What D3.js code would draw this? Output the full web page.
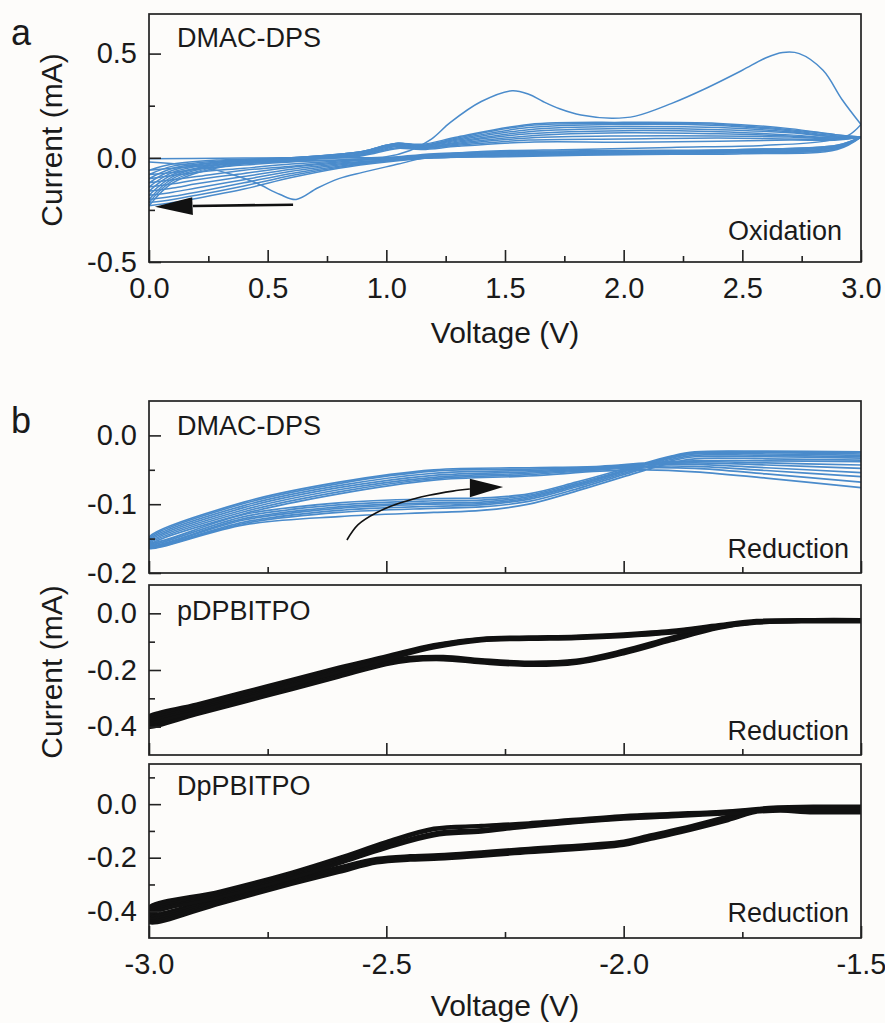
<!DOCTYPE html>
<html><head><meta charset="utf-8">
<script src="https://cdn.jsdelivr.net/npm/d3@7"></script>
<style>
body{margin:0;background:#fdfcfa}
svg{display:block}
text{font-family:"Liberation Sans",Arial,sans-serif;fill:#1a1a1a}
</style></head>
<body><svg id="c" width="885" height="1023"></svg>
<script>
// ---------------- Panel a : DMAC-DPS oxidation ----------------
const oxV1f = [0, 0.3, 0.6, 0.85, 1.0, 1.1, 1.19, 1.27, 1.4, 1.53, 1.6, 1.66, 1.73, 1.82, 1.95, 2.05, 2.2, 2.35, 2.5, 2.6, 2.67, 2.74, 2.84, 2.92, 3.0];
const oxI1f = [-0.005, -0.002, 0.0, 0.0, 0.005, 0.035, 0.09, 0.17, 0.27, 0.322, 0.305, 0.27, 0.235, 0.205, 0.19, 0.2, 0.26, 0.335, 0.42, 0.48, 0.505, 0.5, 0.42, 0.28, 0.16];
const oxV1r = [3.0, 2.95, 2.85, 2.6, 2.2, 1.8, 1.4, 1.2, 1.05, 0.9, 0.8, 0.71, 0.62, 0.55, 0.45, 0.35, 0.2, 0];
const oxI1r = [0.16, 0.11, 0.08, 0.06, 0.05, 0.04, 0.03, 0.01, -0.03, -0.07, -0.1, -0.145, -0.2, -0.175, -0.12, -0.08, -0.04, -0.02];

const oxVf = [0, 0.1, 0.3, 0.6, 0.9, 1.0, 1.05, 1.15, 1.3, 1.6, 2.0, 2.4, 2.7, 2.9, 3.0];
const oxIf = [
  [-0.06,-0.03,-0.01,0.00,0.03,0.06,0.07,0.065,0.10,0.16,0.17,0.165,0.14,0.11,0.10],
  [-0.08,-0.04,-0.015,0.00,0.03,0.06,0.07,0.06,0.095,0.155,0.165,0.16,0.135,0.11,0.10],
  [-0.10,-0.05,-0.02,0.00,0.03,0.06,0.07,0.06,0.09,0.145,0.16,0.155,0.13,0.105,0.10],
  [-0.12,-0.06,-0.02,-0.005,0.025,0.055,0.065,0.055,0.085,0.135,0.15,0.145,0.125,0.10,0.10],
  [-0.14,-0.07,-0.025,-0.005,0.025,0.055,0.065,0.055,0.08,0.125,0.14,0.135,0.12,0.10,0.10],
  [-0.16,-0.08,-0.03,-0.005,0.02,0.05,0.06,0.05,0.075,0.115,0.13,0.125,0.11,0.095,0.10],
  [-0.18,-0.09,-0.03,-0.01,0.02,0.05,0.06,0.05,0.07,0.105,0.12,0.115,0.105,0.095,0.10],
  [-0.20,-0.10,-0.035,-0.01,0.015,0.045,0.055,0.045,0.065,0.095,0.105,0.105,0.10,0.09,0.10],
  [-0.215,-0.11,-0.04,-0.01,0.015,0.04,0.05,0.045,0.06,0.085,0.09,0.095,0.09,0.09,0.10],
  [-0.23,-0.12,-0.045,-0.015,0.01,0.035,0.045,0.04,0.055,0.075,0.075,0.08,0.085,0.085,0.10]
];
const oxVr = [3.0, 2.9, 2.5, 2.0, 1.5, 1.2, 1.0, 0.8, 0.6, 0.4, 0.2, 0.1, 0];
const oxIr = [
  [0.10,0.06,0.04,0.035,0.03,0.02,0.0,-0.01,-0.015,-0.025,-0.04,-0.05,-0.06],
  [0.10,0.06,0.04,0.03,0.025,0.015,0.0,-0.01,-0.02,-0.035,-0.055,-0.07,-0.08],
  [0.10,0.055,0.035,0.03,0.025,0.015,-0.005,-0.015,-0.03,-0.05,-0.07,-0.085,-0.10],
  [0.10,0.055,0.035,0.03,0.02,0.01,-0.005,-0.02,-0.04,-0.06,-0.09,-0.105,-0.12],
  [0.10,0.05,0.03,0.025,0.02,0.01,-0.01,-0.025,-0.045,-0.075,-0.105,-0.125,-0.14],
  [0.10,0.05,0.03,0.025,0.015,0.005,-0.01,-0.03,-0.055,-0.09,-0.125,-0.145,-0.16],
  [0.10,0.05,0.03,0.02,0.015,0.005,-0.01,-0.035,-0.065,-0.105,-0.145,-0.165,-0.18],
  [0.10,0.045,0.025,0.02,0.01,0.0,-0.015,-0.04,-0.075,-0.12,-0.165,-0.185,-0.20],
  [0.10,0.045,0.025,0.02,0.01,0.0,-0.015,-0.045,-0.085,-0.135,-0.18,-0.2,-0.215],
  [0.10,0.04,0.02,0.015,0.005,0.0,-0.02,-0.05,-0.095,-0.15,-0.195,-0.215,-0.23]
];
const oxArrowLine = [[0.607, -0.225], [0.185, -0.231]];
const oxArrowHead = [[0.025, -0.235], [0.182, -0.189], [0.185, -0.275]];

// ---------------- Panel b top : DMAC-DPS reduction ----------------
const rdAV = [-3.0,-2.8,-2.6,-2.4,-2.3,-2.2,-2.1,-2.0,-1.9,-1.85,-1.7,-1.5];
const rdA = [
  [-0.156,-0.115,-0.098,-0.092,-0.091,-0.085,-0.068,-0.049,-0.030,-0.024,-0.023,-0.024],
  [-0.158,-0.118,-0.101,-0.095,-0.094,-0.087,-0.070,-0.051,-0.031,-0.025,-0.024,-0.025],
  [-0.160,-0.121,-0.104,-0.098,-0.097,-0.089,-0.072,-0.052,-0.032,-0.026,-0.025,-0.027],
  [-0.161,-0.123,-0.106,-0.100,-0.099,-0.091,-0.073,-0.053,-0.033,-0.027,-0.027,-0.029],
  [-0.162,-0.126,-0.109,-0.103,-0.101,-0.093,-0.075,-0.055,-0.035,-0.029,-0.029,-0.031],
  [-0.163,-0.128,-0.112,-0.106,-0.104,-0.096,-0.078,-0.057,-0.037,-0.031,-0.031,-0.033],
  [-0.164,-0.130,-0.118,-0.112,-0.109,-0.100,-0.081,-0.060,-0.040,-0.034,-0.034,-0.036]
];
const rdBV = [-1.5,-1.7,-1.85,-1.95,-2.05,-2.2,-2.4,-2.6,-2.8,-3.0];
const rdB = [
  [-0.038,-0.037,-0.037,-0.040,-0.045,-0.047,-0.050,-0.068,-0.097,-0.148],
  [-0.043,-0.040,-0.038,-0.041,-0.046,-0.049,-0.052,-0.070,-0.099,-0.150],
  [-0.048,-0.043,-0.040,-0.042,-0.047,-0.051,-0.055,-0.073,-0.102,-0.152],
  [-0.054,-0.047,-0.042,-0.043,-0.048,-0.053,-0.058,-0.076,-0.105,-0.154],
  [-0.060,-0.051,-0.045,-0.045,-0.049,-0.055,-0.061,-0.079,-0.108,-0.156],
  [-0.068,-0.056,-0.048,-0.047,-0.050,-0.057,-0.063,-0.082,-0.111,-0.158],
  [-0.076,-0.062,-0.053,-0.050,-0.052,-0.059,-0.065,-0.085,-0.114,-0.160]
];
const rdArrowCurve = [[-2.583,-0.152],[-2.56,-0.13],[-2.52,-0.112],[-2.47,-0.098],[-2.41,-0.087],[-2.36,-0.081],[-2.324,-0.078]];
const rdArrowHead = [[-2.254,-0.075],[-2.324,-0.063],[-2.324,-0.090]];

// ---------------- Panel b middle : pDPBITPO ----------------
const pVup = [-1.5,-1.6,-1.72,-1.8,-1.9,-2.0,-2.1,-2.2,-2.3,-2.4,-2.5,-2.6,-2.75,-2.9,-3.0];
const pUp = [
  [-0.022,-0.022,-0.025,-0.040,-0.060,-0.072,-0.080,-0.083,-0.088,-0.110,-0.150,-0.190,-0.255,-0.320,-0.362],
  [-0.024,-0.024,-0.027,-0.043,-0.063,-0.075,-0.082,-0.086,-0.090,-0.113,-0.153,-0.194,-0.260,-0.326,-0.370],
  [-0.026,-0.026,-0.029,-0.045,-0.066,-0.078,-0.085,-0.088,-0.093,-0.116,-0.157,-0.198,-0.266,-0.333,-0.378],
  [-0.028,-0.028,-0.031,-0.048,-0.068,-0.080,-0.087,-0.090,-0.095,-0.119,-0.160,-0.202,-0.272,-0.340,-0.386],
  [-0.030,-0.030,-0.033,-0.050,-0.070,-0.082,-0.089,-0.092,-0.097,-0.122,-0.164,-0.207,-0.278,-0.347,-0.394]
];
const pVdn = [-3.0,-2.9,-2.75,-2.6,-2.5,-2.45,-2.38,-2.3,-2.2,-2.1,-2.0,-1.9,-1.8,-1.72,-1.6,-1.5];
const pDn = [
  [-0.370,-0.330,-0.268,-0.205,-0.165,-0.155,-0.152,-0.163,-0.172,-0.165,-0.130,-0.085,-0.045,-0.027,-0.022,-0.022],
  [-0.378,-0.337,-0.274,-0.210,-0.169,-0.158,-0.155,-0.166,-0.175,-0.168,-0.134,-0.088,-0.047,-0.029,-0.024,-0.024],
  [-0.386,-0.344,-0.280,-0.215,-0.173,-0.161,-0.158,-0.169,-0.178,-0.171,-0.137,-0.091,-0.049,-0.031,-0.026,-0.026],
  [-0.394,-0.351,-0.286,-0.220,-0.177,-0.165,-0.161,-0.172,-0.181,-0.174,-0.140,-0.094,-0.051,-0.033,-0.028,-0.028],
  [-0.402,-0.358,-0.292,-0.225,-0.181,-0.168,-0.164,-0.175,-0.184,-0.177,-0.143,-0.097,-0.053,-0.035,-0.030,-0.030]
];

// ---------------- Panel b bottom : DpPBITPO ----------------
const dVup = [-1.5,-1.6,-1.67,-1.78,-1.9,-2.0,-2.2,-2.3,-2.4,-2.5,-2.6,-2.7,-2.85,-3.0];
const dUp = [
  [-0.008,-0.008,-0.010,-0.025,-0.035,-0.043,-0.070,-0.080,-0.090,-0.140,-0.200,-0.255,-0.325,-0.385],
  [-0.014,-0.014,-0.014,-0.028,-0.038,-0.046,-0.073,-0.083,-0.095,-0.146,-0.205,-0.260,-0.330,-0.392],
  [-0.020,-0.020,-0.018,-0.030,-0.041,-0.050,-0.078,-0.095,-0.108,-0.155,-0.212,-0.266,-0.336,-0.400],
  [-0.026,-0.026,-0.022,-0.033,-0.044,-0.053,-0.082,-0.100,-0.113,-0.160,-0.217,-0.271,-0.342,-0.408],
  [-0.032,-0.032,-0.026,-0.036,-0.047,-0.056,-0.085,-0.104,-0.118,-0.165,-0.222,-0.277,-0.348,-0.415]
];
const dVdn = [-3.0,-2.85,-2.7,-2.6,-2.52,-2.45,-2.4,-2.2,-2.0,-1.95,-1.88,-1.78,-1.71,-1.6,-1.5];
const dDn = [
  [-0.410,-0.347,-0.280,-0.235,-0.203,-0.193,-0.190,-0.165,-0.138,-0.118,-0.090,-0.045,-0.015,-0.008,-0.008],
  [-0.418,-0.353,-0.285,-0.240,-0.207,-0.197,-0.194,-0.169,-0.142,-0.122,-0.094,-0.049,-0.018,-0.014,-0.014],
  [-0.426,-0.360,-0.290,-0.245,-0.211,-0.201,-0.198,-0.173,-0.146,-0.126,-0.098,-0.053,-0.021,-0.020,-0.020],
  [-0.434,-0.366,-0.295,-0.250,-0.215,-0.205,-0.202,-0.177,-0.150,-0.130,-0.102,-0.057,-0.024,-0.026,-0.026],
  [-0.442,-0.372,-0.300,-0.255,-0.219,-0.209,-0.206,-0.181,-0.154,-0.134,-0.106,-0.061,-0.027,-0.032,-0.032]
];

// ---------------- tick values ----------------
const aXMajor = [0, 0.5, 1.0, 1.5, 2.0, 2.5, 3.0];
const aXMinor = [0.25, 0.75, 1.25, 1.75, 2.25, 2.75];
const aYMajor = [-0.5, 0.0, 0.5];
const aYMinor = [-0.25, 0.25];
const bXMajor = [-3.0, -2.5, -2.0, -1.5];
const bXMinor = [-2.75, -2.25, -1.75];
const b1YMajor = [-0.2, -0.1, 0.0];
const b1YMinor = [-0.15, -0.05];
const b2YMajor = [-0.4, -0.2, 0.0];
const b2YMinor = [-0.3, -0.1];
const b3YMajor = [-0.4, -0.2, 0.0];
const b3YMinor = [-0.3, -0.1, 0.1];

// ---------------- drawing ----------------
const BLUE = "#4a8bcb", INK = "#222";
const svg = d3.select("#c");
svg.append("rect").attr("width", 885).attr("height", 1023).attr("fill", "#fdfcfa");
const fmt = d => d.toFixed(1);

function panel(c) {
  const x = d3.scaleLinear().domain(c.xd).range([c.L, c.R]);
  const y = d3.scaleLinear().domain(c.yd).range([c.B, c.T]);
  const g = svg.append("g");
  svg.append("clipPath").attr("id", c.id).append("rect")
    .attr("x", c.L).attr("y", c.T).attr("width", c.R - c.L).attr("height", c.B - c.T);
  const plot = g.append("g").attr("clip-path", `url(#${c.id})`);
  const axG = g.append("g");
  function style(sel) {
    sel.select(".domain").remove();
    sel.attr("color", INK).attr("font-size", 29).attr("font-family", '"Liberation Sans",Arial,sans-serif');
    sel.selectAll("line").attr("stroke-width", 1.6);
    sel.selectAll("text").attr("fill", "#1a1a1a");
  }
  axG.append("g").attr("transform", `translate(0,${c.B})`)
    .call(d3.axisBottom(x).tickValues(c.xMinor).tickSize(-6).tickFormat("")).call(style);
  axG.append("g").attr("transform", `translate(0,${c.B})`)
    .call(d3.axisBottom(x).tickValues(c.xMajor).tickSize(-12).tickPadding(15).tickFormat(c.xLabels ? fmt : () => "")).call(style);
  axG.append("g").attr("transform", `translate(${c.L},0)`)
    .call(d3.axisLeft(y).tickValues(c.yMinor).tickSize(-6).tickFormat("")).call(style);
  axG.append("g").attr("transform", `translate(${c.L},0)`)
    .call(d3.axisLeft(y).tickValues(c.yMajor).tickSize(-12).tickPadding(12).tickFormat(fmt)).call(style);
  g.append("rect").attr("x", c.L).attr("y", c.T).attr("width", c.R - c.L).attr("height", c.B - c.T)
    .attr("fill", "none").attr("stroke", INK).attr("stroke-width", 1.7);
  const line = d3.line().x(d => x(d[0])).y(d => y(d[1])).curve(d3.curveCatmullRom.alpha(0.5));
  return {x, y, plot, g, line};
}

function label(txt, x, y, size, anchor) {
  svg.append("text").attr("x", x).attr("y", y).attr("font-size", size)
    .attr("text-anchor", anchor || "start").text(txt);
}

// Panel a
const pa = panel({id: "ca", L: 149, R: 861, T: 14, B: 262, xd: [0, 3], yd: [-0.5, 0.69],
  xMajor: aXMajor, xMinor: aXMinor, yMajor: aYMajor, yMinor: aYMinor, xLabels: true});
oxIf.forEach((fw, i) => {
  const pts = d3.zip(oxVf, fw).concat(d3.zip(oxVr, oxIr[i]));
  pa.plot.append("path").attr("d", pa.line(pts)).attr("fill", "none")
    .attr("stroke", BLUE).attr("stroke-width", 1.5);
});
pa.plot.append("path").attr("d", pa.line(d3.zip(oxV1f, oxI1f).concat(d3.zip(oxV1r, oxI1r))))
  .attr("fill", "none").attr("stroke", BLUE).attr("stroke-width", 1.5);
pa.plot.append("path").attr("d", d3.line().x(d => pa.x(d[0])).y(d => pa.y(d[1]))(oxArrowLine))
  .attr("stroke", "#111").attr("stroke-width", 2.6).attr("fill", "none");
pa.plot.append("path").attr("d", d3.line().x(d => pa.x(d[0])).y(d => pa.y(d[1]))(oxArrowHead) + "Z")
  .attr("fill", "#111");
label("DMAC-DPS", 177, 47, 27);
label("Oxidation", 842, 240, 27, "end");

// Panel b top
const pb1 = panel({id: "cb1", L: 149, R: 861, T: 401, B: 573, xd: [-3, -1.5], yd: [-0.2, 0.05],
  xMajor: bXMajor, xMinor: bXMinor, yMajor: b1YMajor, yMinor: b1YMinor, xLabels: false});
rdA.forEach((a, i) => {
  const pts = d3.zip(rdBV, rdB[i]).concat(d3.zip(rdAV, a));
  pb1.plot.append("path").attr("d", pb1.line(pts)).attr("fill", "none")
    .attr("stroke", BLUE).attr("stroke-width", 1.7);
});
pb1.plot.append("path").attr("d", pb1.line(rdArrowCurve)).attr("fill", "none")
  .attr("stroke", "#111").attr("stroke-width", 1.6);
pb1.plot.append("path").attr("d", d3.line().x(d => pb1.x(d[0])).y(d => pb1.y(d[1]))(rdArrowHead) + "Z")
  .attr("fill", "#111");
label("DMAC-DPS", 177, 435, 27);
label("Reduction", 849, 558, 27, "end");

// Panel b middle
const pb2 = panel({id: "cb2", L: 149, R: 861, T: 585, B: 755, xd: [-3, -1.5], yd: [-0.5, 0.1],
  xMajor: bXMajor, xMinor: bXMinor, yMajor: b2YMajor, yMinor: b2YMinor, xLabels: false});
pUp.forEach((u, i) => {
  const pts = d3.zip(pVup, u).concat(d3.zip(pVdn, pDn[i]));
  pb2.plot.append("path").attr("d", pb2.line(pts)).attr("fill", "none")
    .attr("stroke", "#111").attr("stroke-width", 3.2);
});
label("pDPBITPO", 177, 620, 27);
label("Reduction", 849, 740, 27, "end");

// Panel b bottom
const pb3 = panel({id: "cb3", L: 149, R: 861, T: 764, B: 938, xd: [-3, -1.5], yd: [-0.5, 0.15],
  xMajor: bXMajor, xMinor: bXMinor, yMajor: b3YMajor, yMinor: b3YMinor, xLabels: true});
dUp.forEach((u, i) => {
  const pts = d3.zip(dVup, u).concat(d3.zip(dVdn, dDn[i]));
  pb3.plot.append("path").attr("d", pb3.line(pts)).attr("fill", "none")
    .attr("stroke", "#111").attr("stroke-width", 3.4);
});
label("DpPBITPO", 177, 795, 27);
label("Reduction", 849, 922, 27, "end");

// axis titles & panel letters
label("Voltage (V)", 505, 343, 30, "middle");
label("Voltage (V)", 505, 1016, 30, "middle");
svg.append("text").attr("transform", "translate(62,140) rotate(-90)").attr("text-anchor", "middle")
  .attr("font-size", 30).text("Current (mA)");
svg.append("text").attr("transform", "translate(62,672) rotate(-90)").attr("text-anchor", "middle")
  .attr("font-size", 30).text("Current (mA)");
label("a", 11, 45, 36);
label("b", 11, 433, 36);
</script>
</body></html>
